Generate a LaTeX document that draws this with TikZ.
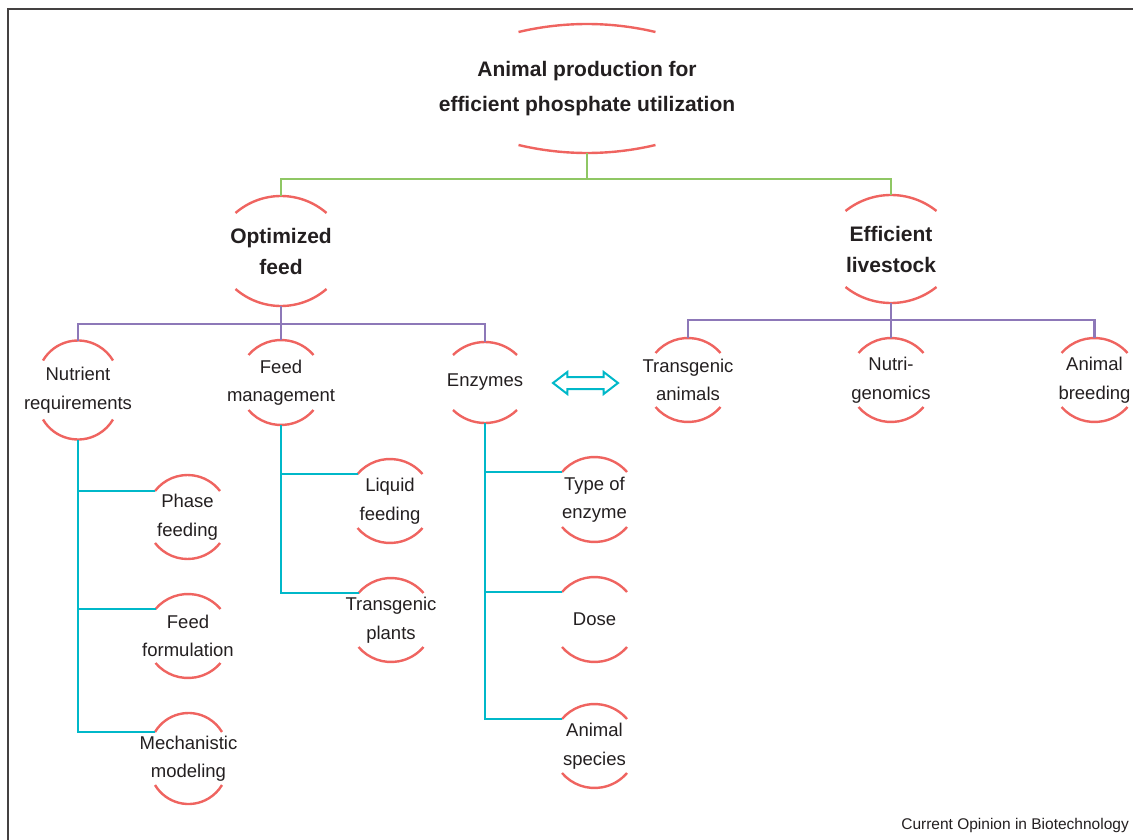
\documentclass[tikz,border=0pt]{standalone}
\usepackage{fontspec}
\setmainfont{Liberation Sans}
\usetikzlibrary{calc, shapes.arrows}

\definecolor{arcred}{RGB}{239,100,96}
\definecolor{linkgreen}{RGB}{143,199,100}
\definecolor{linkpurple}{RGB}{141,120,184}
\definecolor{linkcyan}{RGB}{0,184,201}
\definecolor{ink}{RGB}{35,31,32}

\newcommand{\lidarcs}[4]{%
  \pgfmathsetmacro{\lidR}{(#2*#2+#4*#4)/(2*#4)}
  \pgfmathsetmacro{\lidA}{asin(#2/\lidR)}
  \pgfmathsetmacro{\lidE}{#3-#4}
  \draw[arc line] ($(#1)+(-#2,\lidE)$) coordinate (#1-l) arc[start angle=90+\lidA, end angle=90-\lidA, radius=\lidR];
  \draw[arc line] ($(#1)+(-#2,-\lidE)$) arc[start angle=270-\lidA, end angle=270+\lidA, radius=\lidR];
  \coordinate (#1-t) at ($(#1)+(0,#3)$);
  \coordinate (#1-b) at ($(#1)+(0,-#3)$);
}

\begin{document}
\begin{tikzpicture}[x=1pt, y=1pt,
  every node/.style={text=ink, align=center, inner sep=0pt},
  top node/.style={font=\bfseries\fontsize{21}{35}\selectfont},
  main node/.style={font=\bfseries\fontsize{21}{31}\selectfont},
  leaf node/.style={font=\fontsize{18.5}{28.5}\selectfont},
  arc line/.style={draw=arcred, line width=2.4pt},
  green link/.style={draw=linkgreen, line width=2.3pt},
  purple link/.style={draw=linkpurple, line width=2.3pt},
  cyan link/.style={draw=linkcyan, line width=2.3pt},
  swap arrow/.style={double arrow, draw=linkcyan, line width=2pt, minimum height=65pt,
    inner sep=5pt, double arrow head extend=5pt, double arrow tip angle=75},
  credit/.style={font=\fontsize{15.5}{18}\selectfont, anchor=east}]

  \useasboundingbox (0,0) rectangle (1133,-840);
  \draw[draw=ink!85, line width=1.6pt] (8,-840) -- (8,-9) -- (1133,-9);

  \node[top node] (title) at (587,-88.5) {Animal production for\\efficient phosphate utilization};
  \node[main node] (opt) at (281,-251) {Optimized\\feed};
  \node[main node] (eff) at (891,-249) {Efficient\\livestock};

  \node[leaf node] (nut) at (78,-390) {Nutrient\\requirements};
  \node[leaf node] (fm) at (281,-382.5) {Feed\\management};
  \node[leaf node] (enz) at (485,-382.5) {Enzymes};
  \node[leaf node] (tga) at (688,-380) {Transgenic\\animals};
  \node[leaf node] (ng) at (891,-380) {Nutri-\\genomics};
  \node[leaf node] (ab) at (1094.5,-380) {Animal\\breeding};

  \node[leaf node] (phase) at (187.5,-517) {Phase\\feeding};
  \node[leaf node] (form) at (188,-636) {Feed\\formulation};
  \node[leaf node] (mech) at (188.5,-758.5) {Mechanistic\\modeling};
  \node[leaf node] (liq) at (390,-501) {Liquid\\feeding};
  \node[leaf node] (tpl) at (391,-620) {Transgenic\\plants};
  \node[leaf node] (toe) at (594.5,-499.5) {Type of\\enzyme};
  \node[leaf node] (dose) at (594.5,-619.5) {Dose};
  \node[leaf node] (spec) at (594.5,-746) {Animal\\species};

  \lidarcs{title}{68.5}{64.5}{8}
  \lidarcs{opt}{45.5}{55}{17}
  \lidarcs{eff}{45.5}{54}{16}
  \lidarcs{nut}{35}{49.5}{20}
  \lidarcs{fm}{32.5}{42.5}{15}
  \lidarcs{enz}{32}{40.5}{13}
  \lidarcs{tga}{32.5}{42}{15}
  \lidarcs{ng}{32.5}{42}{15}
  \lidarcs{ab}{33}{42}{15}
  \lidarcs{phase}{32.5}{42}{16}
  \lidarcs{form}{32.5}{42}{15}
  \lidarcs{mech}{33.5}{45.5}{19}
  \lidarcs{liq}{32.5}{42}{15}
  \lidarcs{tpl}{32.5}{42}{15}
  \lidarcs{toe}{32.5}{42.5}{15}
  \lidarcs{dose}{32.5}{42.5}{15}
  \lidarcs{spec}{32.5}{42}{15}

  \draw[green link] (title-b) -- ++(0,-26) coordinate (gbus);
  \draw[green link] (opt-t) |- (gbus) -| (eff-t);

  \draw[purple link] (opt-b) -- ++(0,-18) coordinate (lbus);
  \draw[purple link] (nut-t) |- (lbus) -| (enz-t);
  \draw[purple link] (fm-t) -- (fm-t |- lbus);
  \draw[purple link] (eff-b) -- ++(0,-17) coordinate (rbus);
  \draw[purple link] (tga-t) |- (rbus) -| (ab-t);
  \draw[purple link] (ng-t) -- (ng-t |- rbus);

  \draw[cyan link] (nut-b) |- (mech-l);
  \draw[cyan link] (nut-b |- phase-l) -- (phase-l);
  \draw[cyan link] (nut-b |- form-l) -- (form-l);
  \draw[cyan link] (fm-b) |- (tpl-l);
  \draw[cyan link] (fm-b |- liq-l) -- (liq-l);
  \draw[cyan link] (enz-b) |- (spec-l);
  \draw[cyan link] (enz-b |- toe-l) -- (toe-l);
  \draw[cyan link] (enz-b |- dose-l) -- (dose-l);

  \node[swap arrow] (swap) at ($(enz)!0.5!(tga)+(-1,-1.75)$) {};

  \node[credit] (src) at (1129,-825) {Current Opinion in Biotechnology};
\end{tikzpicture}
\end{document}
